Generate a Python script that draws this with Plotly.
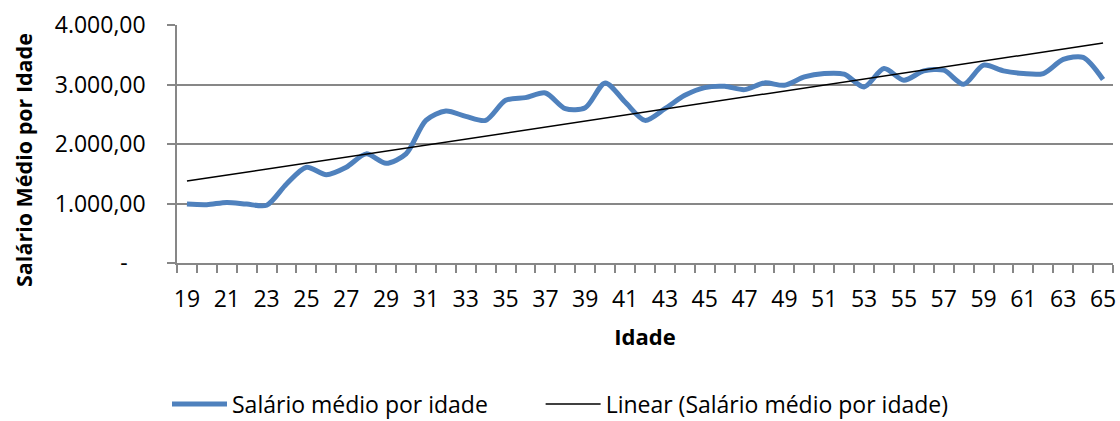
import numpy as np
import plotly.graph_objects as go

ages = list(range(19, 66))
salario = [990, 980, 1018, 990, 970, 1328, 1610, 1485, 1610, 1834,
           1676, 1834, 2397, 2554, 2464, 2397, 2734, 2779, 2858, 2594,
           2610, 3027, 2706, 2397, 2594, 2818, 2948, 2970, 2914, 3027,
           2987, 3128, 3184, 3173, 2959, 3268, 3072, 3229, 3240, 3004,
           3325, 3229, 3184, 3184, 3421, 3455, 3083]
y_tickvals = [0, 1000, 2000, 3000, 4000]
y_ticktext = ["-\u00a0\u00a0\u00a0", "1.000,00", "2.000,00", "3.000,00", "4.000,00"]
x_tickvals = list(range(19, 66, 2))
x_ticktext = [str(v) for v in x_tickvals]

# Linear trendline (least squares on the series, like Excel's)
coef = np.polyfit(ages, salario, 1)
trend = [coef[0] * a + coef[1] for a in ages]

FONT = "Open Sans"
GRID = "#878787"
GAP = "\u00a0" * 8

fig = go.Figure()
fig.add_trace(go.Scatter(
    x=ages, y=salario, mode="lines", name="Salário médio por idade" + GAP,
    line=dict(color="#4F81BD", width=5, shape="spline", smoothing=0.8),
))
fig.add_trace(go.Scatter(
    x=[ages[0], ages[-1]], y=[trend[0], trend[-1]], mode="lines",
    name="Linear (Salário médio por idade)",
    line=dict(color="#000000", width=1.5),
))

fig.update_layout(
    width=1120, height=421,
    margin=dict(l=177, r=7, t=25, b=158, autoexpand=False),
    plot_bgcolor="white", paper_bgcolor="white",
    font=dict(family=FONT, size=22, color="#000000"),
    showlegend=True,
    legend=dict(orientation="h", xref="container", yref="container",
                x=0.5, xanchor="center", y=0.04, yanchor="middle",
                font=dict(family=FONT, size=23), itemwidth=55,
                traceorder="normal"),
    annotations=[dict(
        text="<b>Salário Médio por Idade</b>", textangle=-90,
        xref="paper", yref="paper", x=(23 - 177) / 936, y=(263 - 160) / 238,
        xanchor="center", yanchor="middle", showarrow=False,
        font=dict(family=FONT, size=21.5, color="#000000"),
    )],
)

fig.update_xaxes(
    range=[18.5, 65.5], tickmode="array", tickvals=x_tickvals, ticktext=x_ticktext,
    ticks="", showgrid=False, zeroline=False,
    showline=True, linecolor=GRID, linewidth=1.5,
    ticklabelstandoff=15,
    minor=dict(ticks="outside", tickmode="linear", tick0=18.5, dtick=1,
               ticklen=8, tickcolor=GRID, tickwidth=1.5, showgrid=False),
    title=dict(text="<b>Idade</b>", font=dict(family=FONT, size=22), standoff=16),
    tickfont=dict(family=FONT, size=23),
)
fig.update_yaxes(
    range=[0, 4000], tickmode="array", tickvals=y_tickvals, ticktext=y_ticktext,
    ticks="outside", ticklen=8, tickcolor=GRID, tickwidth=1.5,
    showgrid=True, gridcolor=GRID, gridwidth=1.5, zeroline=False,
    showline=True, linecolor=GRID, linewidth=1.5,
    ticklabelstandoff=17,
    tickfont=dict(family=FONT, size=23),
)

fig.write_html("out.html", config={"displayModeBar": False},
               post_script="document.body.style.margin='0';")
